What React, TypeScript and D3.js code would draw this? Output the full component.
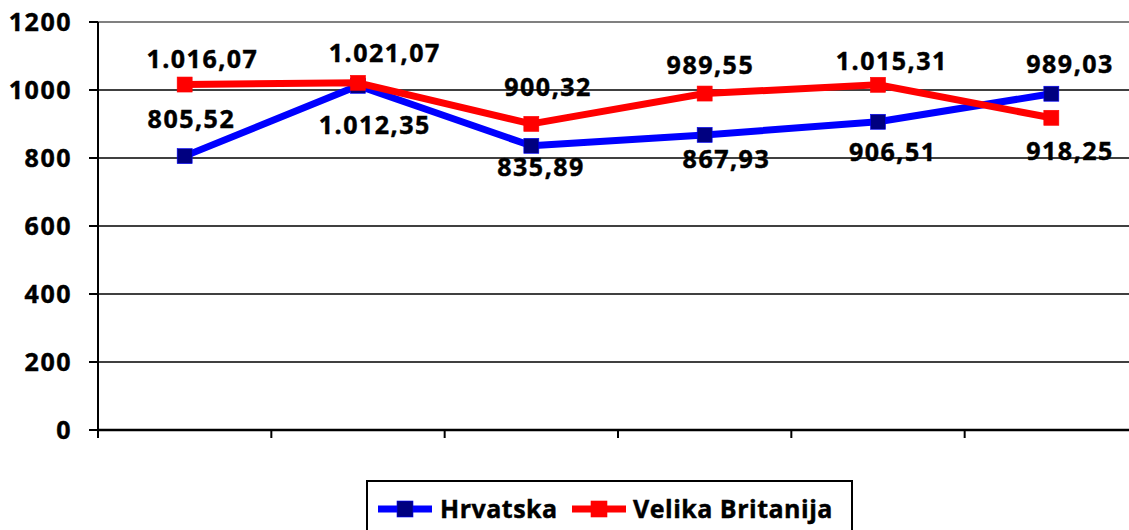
import React from "react";
import * as d3 from "d3";

const categories = ["1", "2", "3", "4", "5", "6"];
const hrvatska = [805.52, 1012.35, 835.89, 867.93, 906.51, 989.03];
const britanija = [1016.07, 1021.07, 900.32, 989.55, 1015.31, 918.25];
const yTicks = [0, 200, 400, 600, 800, 1000, 1200];
const seriesNames = ["Hrvatska", "Velika Britanija"];
// label offsets of text centre from the point (px)
const hrvLabelDx = [6, 16, 9, 21, 14, 18];
const hrvLabelDy = [-37, 39, 21, 24, 30, -30];
const gbLabelDx = [17, 26, 16, 5, 13, 18];
const gbLabelDy = [-25, -30, -37, -28, -24, 33];

const W = 1129;
const H = 530;
const FONT = "'Open Sans', 'Liberation Sans', sans-serif";

function fmt(v: number): string {
  const s = v.toFixed(2);
  const [i, d] = s.split(".");
  const ii = i.replace(/\B(?=(\d{3})+(?!\d))/g, ".");
  return ii + "," + d;
}

export default function App() {
  const left = 98;
  const right = 1138;
  const top = 22;
  const bottom = 430;
  const x = d3.scaleBand<string>().domain(categories).range([left, right]);
  const y = d3.scaleLinear().domain([0, 1200]).range([bottom, top]);
  const cx = (c: string) => (x(c) as number) + x.bandwidth() / 2;
  const line = d3
    .line<number>()
    .x((_, i) => cx(categories[i]))
    .y((v) => y(v));

  const series = [
    { name: seriesNames[0], data: hrvatska, line: "#0000FF", marker: "#000080", dx: hrvLabelDx, dy: hrvLabelDy },
    { name: seriesNames[1], data: britanija, line: "#FF0000", marker: "#FF0000", dx: gbLabelDx, dy: gbLabelDy },
  ];
  const ms = 15;
  const fontSize = 25;
  const ls = 1.5;
  const capHalf = 8.8;
  const txtStroke = { stroke: "#000", strokeWidth: 0.45 };

  const boundaries = d3.range(categories.length + 1).map((i) => left + i * x.step());

  return (
    <svg
      width={W}
      height={H}
      style={{ position: "absolute", left: 0, top: 0, background: "#fff" }}
      fontFamily={FONT}
      fontWeight={700}
    >
      <rect x={0} y={0} width={W} height={H} fill="#fff" />
      {/* gridlines */}
      {yTicks
        .filter((t) => t > 0)
        .map((t) => (
          <line
            key={t}
            x1={left}
            x2={right}
            y1={y(t)}
            y2={y(t)}
            stroke={t === 1200 ? "#808080" : "#000"}
            strokeWidth={t === 1200 ? 2 : 1.5}
          />
        ))}
      {/* y axis */}
      <line x1={left} x2={left} y1={top} y2={bottom + 8} stroke="#000" strokeWidth={2} />
      {yTicks.map((t) => (
        <g key={"yt" + t}>
          <line x1={left - 9} x2={left} y1={y(t)} y2={y(t)} stroke="#000" strokeWidth={2} />
          <text
            x={72}
            y={y(t) + capHalf}
            textAnchor="end"
            fontSize={fontSize}
            letterSpacing={ls}
            fill="#000"
            {...txtStroke}
          >
            {t}
          </text>
        </g>
      ))}
      {/* x axis */}
      <line x1={left} x2={right} y1={bottom} y2={bottom} stroke="#000" strokeWidth={2.5} />
      {boundaries.map((b, i) => (
        <line key={"xt" + i} x1={b} x2={b} y1={bottom} y2={bottom + 8} stroke="#000" strokeWidth={2} />
      ))}
      {/* series */}
      {series.map((s) => (
        <g key={s.name}>
          <path d={line(s.data) || ""} fill="none" stroke={s.line} strokeWidth={7} strokeLinejoin="round" />
          {s.data.map((v, i) => (
            <rect
              key={i}
              x={cx(categories[i]) - ms / 2}
              y={y(v) - ms / 2}
              width={ms}
              height={ms}
              fill={s.marker}
              stroke={s.line}
              strokeWidth={0.6}
            />
          ))}
        </g>
      ))}
      {/* labels */}
      {series.map((s) =>
        s.data.map((v, i) => (
          <text
            key={s.name + "l" + i}
            x={cx(categories[i]) + s.dx[i] + ls / 2}
            y={y(v) + s.dy[i] + capHalf}
            textAnchor="middle"
            fontSize={fontSize}
            letterSpacing={ls}
            fill="#000"
            {...txtStroke}
          >
            {fmt(v)}
          </text>
        ))
      )}
      {/* legend */}
      <rect x={367} y={481} width={485} height={70} fill="#fff" stroke="#000" strokeWidth={2} />
      {series.map((s, i) => {
        const lx = i === 0 ? 378 : 572;
        const tx = i === 0 ? 440 : 633;
        return (
          <g key={"lg" + i}>
            <line x1={lx} x2={lx + 54} y1={509} y2={509} stroke={s.line} strokeWidth={7} />
            <rect x={lx + 27 - 8} y={509 - 8} width={16} height={16} fill={s.marker} stroke={s.line} strokeWidth={0.6} />
            <text x={tx} y={509 + capHalf} fontSize={fontSize} letterSpacing={0.5} fill="#000" {...txtStroke}>
              {s.name}
            </text>
          </g>
        );
      })}
    </svg>
  );
}
